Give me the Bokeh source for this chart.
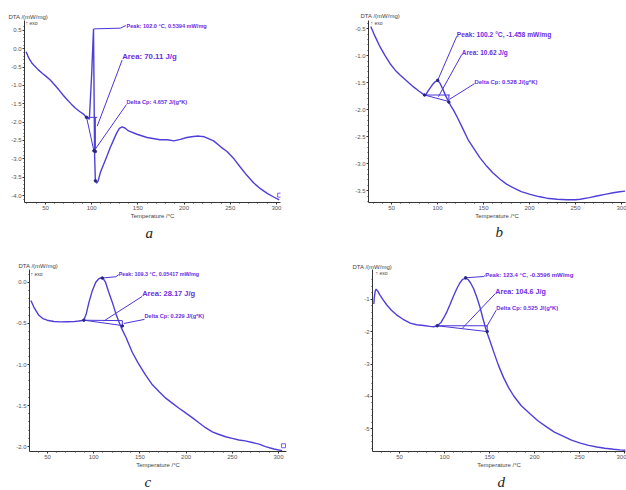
from bokeh.plotting import figure
from bokeh.models import Range1d, FixedTicker, NumeralTickFormatter, Label, Title
from bokeh.layouts import column, row
from bokeh.embed import file_html
from bokeh.resources import INLINE

# ---------------- data ----------------
x_ticks = [50, 100, 150, 200, 250, 300]
x_minor = list(range(30, 310, 10))

# panel a
a_temp = [29, 31, 33, 35, 37.5, 42, 46.5, 51, 55.5, 60, 64.5, 69, 73.5, 78, 82.5, 87, 91.5, 94, 97.5,
          100, 102, 102.6, 103.2, 104, 105.5, 107, 109.6, 113, 116.8, 120, 124, 127, 130, 133, 136, 140,
          149, 160, 174, 182, 189, 196, 203, 210, 216, 222, 232, 240, 246.5, 254, 261, 268, 275.5, 283,
          290, 297, 303]
a_dta = [-0.08, -0.2, -0.3, -0.38, -0.45, -0.57, -0.67, -0.76, -0.86, -0.99, -1.12, -1.26, -1.39, -1.51,
         -1.62, -1.71, -1.79, -1.86, -1.92,
         -0.7, 0.54, -1.2, -2.9, -3.6, -3.66, -3.6, -3.36, -3.15, -2.91, -2.7, -2.47, -2.3, -2.17, -2.13,
         -2.16, -2.24, -2.33, -2.42, -2.48, -2.48, -2.51, -2.47, -2.42, -2.39, -2.38, -2.4, -2.51, -2.68,
         -2.8, -3.0, -3.23, -3.45, -3.66, -3.82, -3.94, -4.04, -4.12]
a_texts = ["Peak: 102.0 °C, 0.5394 mW/mg", "Area: 70.11 J/g", "Delta Cp: 4.657 J/(g*K)"]
a_text_x = [137.7, 133.0, 137.7]
a_text_y = [0.63, -0.21, -1.46]
a_lead_xs = [[102.0, 131.0, 137.0], [133.0, 106.0], [137.7, 104.1]]
a_lead_ys = [[0.54, 0.56, 0.63], [-0.31, -2.11], [-1.52, -2.73]]
a_base_xs = [[94.4, 106.0], [94.4, 102.4], [104.0, 104.0], [102.4, 104.0]]
a_base_ys = [[-1.87, -1.87], [-1.86, -2.78], [-1.87, -2.78], [-2.78, -2.78]]
a_mark_x = [94.4, 102.4, 104.0, 104.1]
a_mark_y = [-1.87, -2.78, -2.8, -3.6]

# panel b
b_temp = [27.5, 32, 37.6, 43, 48.5, 54, 59.3, 66, 73.9, 80, 86.6, 90, 94, 97, 100.2, 103, 106, 109, 112,
          114.5, 117.4, 122, 128, 133, 139, 146, 153.6, 160, 168, 175, 182.6, 191, 200.7, 210, 218.8,
          230, 240.5, 250, 255, 265, 273, 282, 291, 298, 304]
b_dta = [-0.46, -0.64, -0.84, -1.0, -1.15, -1.27, -1.36, -1.46, -1.58, -1.66, -1.74, -1.65, -1.55,
         -1.49, -1.458, -1.52, -1.63, -1.75, -1.85, -1.93, -2.01, -2.16, -2.37, -2.55, -2.71, -2.89,
         -3.05, -3.17, -3.29, -3.38, -3.45, -3.52, -3.57, -3.61, -3.64, -3.66, -3.67, -3.67, -3.66,
         -3.63, -3.6, -3.57, -3.54, -3.52, -3.51]
b_texts = ["Peak: 100.2 °C, -1.458 mW/mg", "Area: 10.62 J/g", "Delta Cp: 0.528 J/(g*K)"]
b_text_x = [121.0, 126.4, 140.2]
b_text_y = [-0.60, -0.94, -1.49]
b_lead_xs = [[121.0, 100.2], [126.4, 101.0], [140.2, 113.0]]
b_lead_ys = [[-0.64, -1.458], [-0.98, -1.76], [-1.52, -1.81]]
b_base_xs = [[85.9, 113.3], [85.9, 112.3], [112.3, 112.3]]
b_base_ys = [[-1.73, -1.73], [-1.73, -1.85], [-1.73, -1.85]]
b_mark_x = [85.9, 100.2, 112.3]
b_mark_y = [-1.73, -1.458, -1.86]

# panel c
c_temp = [32, 35.2, 40.6, 45, 49.6, 57, 64, 71, 78.4, 84, 89.3, 92, 94.9, 98.5, 102.1, 105, 107.5,
          109.3, 111, 112.9, 116, 120.1, 124, 127.3, 130.2, 135, 141.7, 148, 156.2, 163, 170.6, 178,
          185, 192, 199.5, 207, 213.9, 221, 228.4, 235, 242.8, 250, 257.2, 264, 271.6, 279, 286, 295, 304]
c_dta = [-0.22, -0.30, -0.40, -0.44, -0.46, -0.475, -0.48, -0.478, -0.477, -0.47, -0.46, -0.38, -0.24,
         -0.1, 0.0, 0.04, 0.055, 0.054, 0.035, 0.0, -0.11, -0.24, -0.38, -0.48, -0.56, -0.67, -0.85,
         -0.98, -1.13, -1.24, -1.33, -1.41, -1.47, -1.53, -1.59, -1.65, -1.71, -1.77, -1.82, -1.85,
         -1.88, -1.9, -1.92, -1.93, -1.95, -1.97, -2.0, -2.03, -2.05]
c_texts = ["Peak: 109.3 °C, 0.05417 mW/mg", "Area: 28.17 J/g", "Delta Cp: 0.229 J/(g*K)"]
c_text_x = [127.1, 152.5, 155.0]
c_text_y = [0.103, -0.13, -0.41]
c_lead_xs = [[109.3, 124.0, 127.1], [152.5, 110.9], [155.0, 132.6]]
c_lead_ys = [[0.054, 0.07, 0.095], [-0.17, -0.47], [-0.45, -0.50]]
c_base_xs = [[89.3, 131.0], [89.3, 131.0], [131.0, 131.0]]
c_base_ys = [[-0.46, -0.465], [-0.46, -0.525], [-0.465, -0.525]]
c_mark_x = [89.3, 109.3, 131.0]
c_mark_y = [-0.46, 0.054, -0.53]

# panel d
d_temp = [21.5, 22, 23, 24, 26, 28.5, 32, 35.9, 41, 47, 54, 61.9, 69, 76.7, 84, 88, 91.9, 96, 99,
          102.6, 106, 110, 113.7, 117, 120, 123.4, 126, 129, 132.2, 136, 139.7, 142.5, 145.2, 147, 150,
          154.4, 160, 165.6, 171, 176.7, 185, 195.2, 204, 213.7, 222, 232.2, 241, 250.8, 260, 269.2,
          278, 287.8, 295, 301]
d_dta = [-1.15, -0.95, -0.75, -0.69, -0.76, -0.88, -1.03, -1.18, -1.34, -1.49, -1.62, -1.74, -1.79,
         -1.81, -1.84, -1.85, -1.82, -1.72, -1.58, -1.39, -1.17, -0.9, -0.67, -0.5, -0.39, -0.36, -0.39,
         -0.5, -0.67, -0.95, -1.28, -1.58, -1.85, -2.02, -2.25, -2.61, -3.05, -3.42, -3.72, -3.98,
         -4.28, -4.54, -4.76, -4.95, -5.1, -5.23, -5.35, -5.44, -5.51, -5.56, -5.6, -5.63, -5.65, -5.66]
d_texts = ["Peak: 123.4 °C, -0.3596 mW/mg", "Area: 104.6 J/g", "Delta Cp: 0.525 J/(g*K)"]
d_text_x = [145.2, 156.3, 157.4]
d_text_y = [-0.24, -0.76, -1.28]
d_lead_xs = [[123.4, 143.7, 145.2], [156.3, 119.7], [157.4, 146.7]]
d_lead_ys = [[-0.34, -0.30, -0.26], [-0.83, -1.90], [-1.34, -1.85]]
d_base_xs = [[91.9, 147.4], [91.9, 147.4], [147.4, 147.4]]
d_base_ys = [[-1.82, -1.82], [-1.82, -2.0], [-1.82, -2.0]]
d_mark_x = [91.9, 123.4, 147.4]
d_mark_y = [-1.82, -0.34, -2.0]

a_yticks = [0.5, 0.0, -0.5, -1.0, -1.5, -2.0, -2.5, -3.0, -3.5, -4.0]
b_yticks = [-0.5, -1.0, -1.5, -2.0, -2.5, -3.0, -3.5]
c_yticks = [0.0, -0.5, -1.0, -1.5, -2.0]
d_yticks = [-1, -2, -3, -4, -5]

# ---------------- styling ----------------
CURVE = "#4f3fd9"
ANN = "#4a36d6"
TEXT = "#6a2ce3"
FONT = "Liberation Sans"
AXIS = "#333333"
TICKTXT = "#555555"


def make_panel(temp, dta, xr, yr, yticks, yfmt, yminor, borders, texts, tx, ty, tsizes,
               lead_xs, lead_ys, base_xs, base_ys, mark_x, mark_y, caption, cap_offset,
               cap_standoff, dta_offset, dta_standoff, exo_pos, end_mark=None):
    left, right, top, bottom = borders
    p = figure(width=313, height=245, x_range=Range1d(*xr), y_range=Range1d(*yr),
               output_backend="svg", toolbar_location=None,
               min_border_left=left, min_border_right=right, min_border_top=top,
               min_border_bottom=bottom)
    p.xgrid.visible = False
    p.ygrid.visible = False
    p.outline_line_color = None
    p.background_fill_color = "white"
    p.border_fill_color = "white"

    # y-axis title shown at the top-left, as in the instrument software
    p.title.text = "DTA /(mW/mg)"
    p.title.align = "left"
    p.title.offset = dta_offset
    p.title.standoff = dta_standoff
    p.title.text_font = FONT
    p.title.text_font_size = "6px"
    p.title.text_font_style = "normal"
    p.title.text_color = "#444444"

    for ax in (p.xaxis[0], p.yaxis[0]):
        ax.axis_line_color = AXIS
        ax.major_tick_line_color = AXIS
        ax.minor_tick_line_color = AXIS
        ax.major_tick_in = 0
        ax.major_tick_out = 2
        ax.minor_tick_in = 0
        ax.minor_tick_out = 1
        ax.major_label_text_font = FONT
        ax.major_label_text_font_size = "6px"
        ax.major_label_text_color = TICKTXT
        ax.major_label_standoff = 1
    p.xaxis.ticker = FixedTicker(ticks=x_ticks, minor_ticks=x_minor)
    p.yaxis.ticker = FixedTicker(ticks=yticks, minor_ticks=yminor)
    p.yaxis.formatter = NumeralTickFormatter(format=yfmt)
    p.xaxis.axis_label = "Temperature /°C"
    p.xaxis.axis_label_text_font = FONT
    p.xaxis.axis_label_text_font_size = "6px"
    p.xaxis.axis_label_text_font_style = "normal"
    p.xaxis.axis_label_text_color = "#444444"
    p.xaxis.axis_label_standoff = 0

    # construction lines and leader lines
    p.multi_line(xs=base_xs, ys=base_ys, line_color=ANN, line_width=1)
    p.multi_line(xs=lead_xs, ys=lead_ys, line_color=ANN, line_width=1)
    # main DTA curve
    p.line(temp, dta, line_color=CURVE, line_width=1.4)
    p.scatter(mark_x, mark_y, size=2.5, color="#262680")
    if end_mark is not None:
        p.scatter([end_mark[0]], [end_mark[1]], marker="square", size=4,
                  fill_color=None, line_color=TEXT, line_width=0.8)

    for t, x, y, s in zip(texts, tx, ty, tsizes):
        p.add_layout(Label(x=x, y=y, text=t, text_font=FONT, text_font_size=s,
                           text_font_style="bold", text_color=TEXT, text_baseline="middle",
                           text_align="left"))

    p.add_layout(Label(x=exo_pos[0], y=exo_pos[1], x_units="screen", y_units="screen",
                       text="↑ exo", text_font=FONT, text_font_size="5px",
                       text_color="#444444", text_baseline="middle"))
    p.add_layout(Title(text=caption, align="left", offset=cap_offset, standoff=cap_standoff,
                       text_font="Liberation Serif", text_font_style="italic",
                       text_font_size="15px", text_color="#222222"), "below")
    return p


pa = make_panel(a_temp, a_dta, (27.3, 304.4), (-4.19, 0.769), a_yticks, "0.0",
                [round(-4.1 + 0.1 * i, 1) for i in range(48)], (24, 33, 18, 43),
                a_texts, a_text_x, a_text_y, ["5.6px", "7.8px", "5.7px"],
                a_lead_xs, a_lead_ys, a_base_xs, a_base_ys, a_mark_x, a_mark_y,
                "a", 121, 2, -16, 1.5, (1, 180), end_mark=(303.5, -3.99))

pb = make_panel(b_temp, b_dta, (25, 304.3), (-3.72, -0.35), b_yticks, "0.0",
                [round(-3.7 + 0.1 * i, 1) for i in range(34)], (55, 1, 20, 42),
                b_texts, b_text_x, b_text_y, ["6.7px", "6.5px", "5.9px"],
                b_lead_xs, b_lead_ys, b_base_xs, b_base_ys, b_mark_x, b_mark_y,
                "b", 127, 0, -8, 3.5, (2, 180))

pc = make_panel(c_temp, c_dta, (30.5, 308.7), (-2.06, 0.158), c_yticks, "0.0",
                [round(-2.0 + 0.1 * i, 1) for i in range(22)], (29, 27, 24, 39),
                c_texts, c_text_x, c_text_y, ["5.4px", "7.5px", "5.6px"],
                c_lead_xs, c_lead_ys, c_base_xs, c_base_ys, c_mark_x, c_mark_y,
                "c", 115, 2, -11, 0.5, (1, 178), end_mark=(305.5, -1.99))

pd_ = make_panel(d_temp, d_dta, (20, 301), (-5.7, -0.084), d_yticks, "0",
                 [round(-5.6 + 0.2 * i, 1) for i in range(27)], (59, 1, 24, 38),
                 d_texts, d_text_x, d_text_y, ["6px", "7.2px", "5.8px"],
                 d_lead_xs, d_lead_ys, d_base_xs, d_base_ys, d_mark_x, d_mark_y,
                 "d", 125, 2, -20, 0, (3, 179))

layout = column(row(pa, pb), row(pc, pd_))
open("out.html", "w").write(file_html(layout, INLINE))
